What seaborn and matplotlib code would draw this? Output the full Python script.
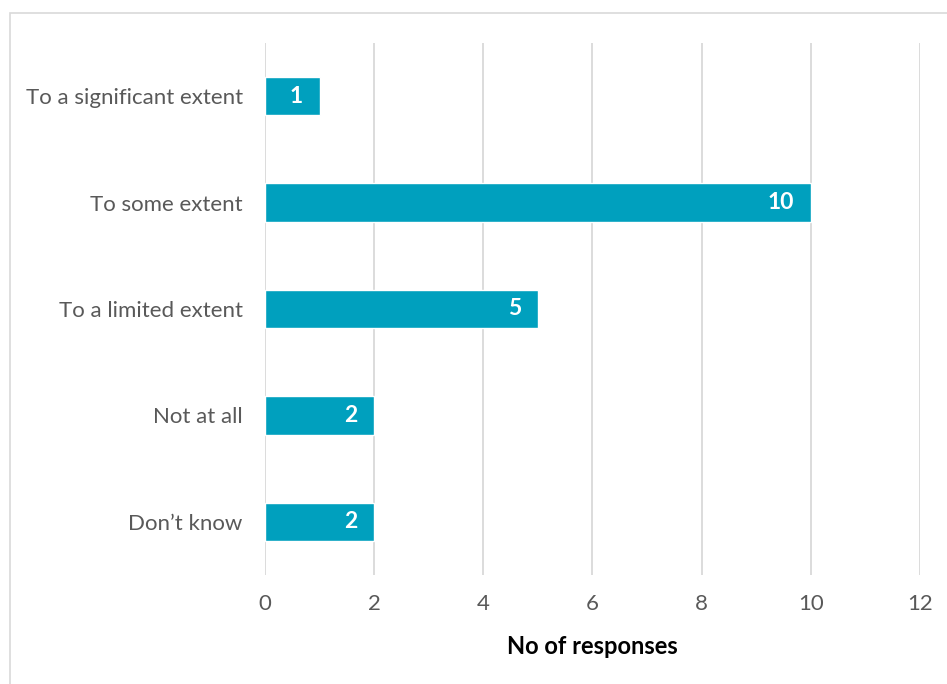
import matplotlib
matplotlib.use("Agg")
import matplotlib.pyplot as plt
import seaborn as sns
import pandas as pd
from matplotlib.patches import Rectangle

categories = ["To a significant extent", "To some extent", "To a limited extent",
              "Not at all", "Don\u2019t know"]
responses = [1, 10, 5, 2, 2]
x_ticks = [0, 2, 4, 6, 8, 10, 12]
x_label = "No of responses"

df = pd.DataFrame({"category": categories, "responses": responses})

sns.set_theme(style="white")
plt.rcParams["font.family"] = ["Lato", "DejaVu Sans"]

bar_color = "#00A0BE"
text_color = "#595959"
grid_color = "#D9D9D9"

fig = plt.figure(figsize=(9.47, 6.84), dpi=100)
ax = fig.add_axes([0.2798, 0.1594, 0.6917, 0.7777])

sns.barplot(data=df, y="category", x="responses", orient="h",
            color=bar_color, saturation=1, width=0.36, ax=ax, zorder=3)

ax.set_xlim(0, 12)
ax.set_ylim(4.5, -0.5)
ax.set_xticks(x_ticks)
ax.set_xticklabels([str(t) for t in x_ticks], fontsize=16, color=text_color)
ax.tick_params(axis="y", labelsize=16, labelcolor=text_color, length=0, pad=16)
ax.tick_params(axis="x", length=0, pad=14)
ax.set_ylabel("")
ax.set_xlabel(x_label, fontsize=17, fontweight="bold", color="black", labelpad=15)

ax.grid(axis="x", color=grid_color, linewidth=1.3, zorder=0)
ax.grid(axis="y", visible=False)
for s in ax.spines.values():
    s.set_visible(False)

# value labels, right-aligned just inside the end of each bar
for i, v in enumerate(responses):
    ax.annotate(str(v), xy=(v, i), xytext=(-12, 0), textcoords="offset points",
                ha="right", va="center", color="white", fontweight="bold",
                fontsize=16.5, zorder=4)

# light frame around the chart area
fig.patches.append(Rectangle((10 / 947, -0.05), 1.0, 1 - 13 / 684 + 0.05,
                             transform=fig.transFigure, fill=False,
                             edgecolor="#D9D9D9", linewidth=1.2))

fig.savefig("out.png", dpi=100)
